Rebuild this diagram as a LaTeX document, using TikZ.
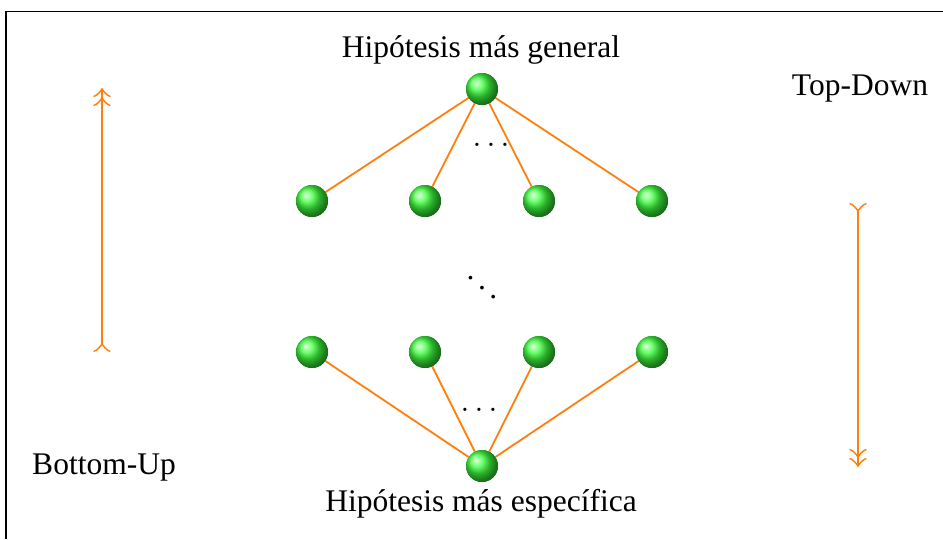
\documentclass[tikz,border=0pt]{standalone}
\usepackage{fontspec}
\setmainfont{Liberation Serif}
\usetikzlibrary{arrows.meta}
\definecolor{edgeorange}{RGB}{255,127,14}
\definecolor{ballgreen}{RGB}{60,255,60}
\tikzset{
  ball/.style={circle, minimum size=32pt, inner sep=0pt, shading=ball, ball color=ballgreen},
  edge/.style={draw=edgeorange, line width=1.8pt},
  flow/.style={draw=edgeorange, line width=1.8pt, >={Classical TikZ Rightarrow[scale=2]}, >->>},
  lbl/.style={font=\fontsize{31.5}{36}\selectfont, inner sep=0pt},
  dotlbl/.style={font=\fontsize{10}{12}\selectfont, inner sep=0pt, scale=3.15}
}
\begin{document}
\begin{tikzpicture}[x=1pt,y=-1pt]
\useasboundingbox (0,0) rectangle (943,539);
\draw[line width=1.5pt] (6,539) -- (6,11.5) -- (943,11.5);

\node[ball] (t) at (482,89) {};
\node[ball] (a1) at (312,201) {};
\node[ball] (a2) at (425,201) {};
\node[ball] (a3) at (539,201) {};
\node[ball] (a4) at (652,201) {};
\node[ball] (b1) at (312,352) {};
\node[ball] (b2) at (425,352) {};
\node[ball] (b3) at (539,352) {};
\node[ball] (b4) at (652,352) {};
\node[ball] (s) at (482,466) {};

\foreach \n in {a1,a2,a3,a4} \draw[edge] (t) -- (\n);
\foreach \n in {b1,b2,b3,b4} \draw[edge] (s) -- (\n);
\foreach \n in {t,a1,a2,a3,a4,b1,b2,b3,b4,s} \node[ball] at (\n) {};

\node[dotlbl] (d1) at (491,145) {$\dots$};
\node[dotlbl] (d2) at (482,278) {$\ddots$};
\node[dotlbl] (d3) at (479,410) {$\dots$};

\node[lbl] (lg) at (481,50) {Hipótesis más general};
\node[lbl] (le) at (481,504) {Hipótesis más específica};
\node[lbl] (ltd) at (860,89) {Top-Down};
\node[lbl] (lbu) at (104,468) {Bottom-Up};

\coordinate (u0) at (102,352);
\coordinate (u1) at (102,88);
\coordinate (v0) at (858,203);
\coordinate (v1) at (858,467);
\draw[flow] (u0) -- (u1);
\draw[flow] (v0) -- (v1);
\end{tikzpicture}
\end{document}
